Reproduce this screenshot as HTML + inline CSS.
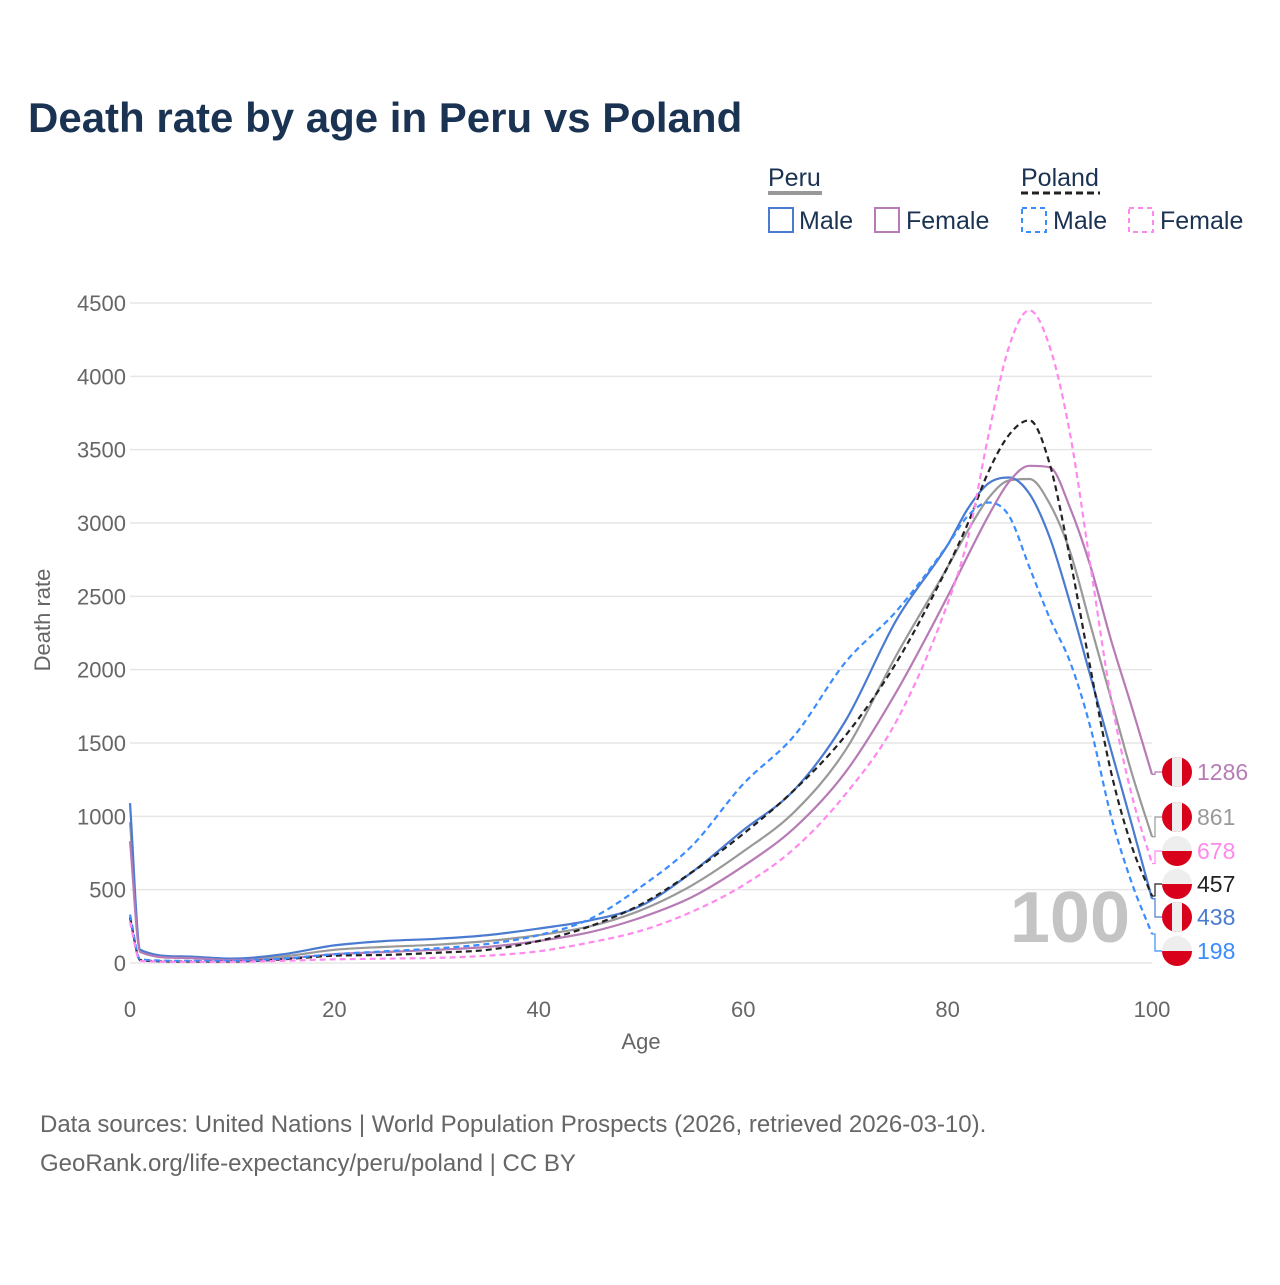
<!DOCTYPE html>
<html><head><meta charset="utf-8"><style>
body{margin:0;background:#fff;width:1280px;height:1280px;overflow:hidden;font-family:"Liberation Sans",sans-serif}
</style></head><body>
<svg width="1280" height="1280" xmlns="http://www.w3.org/2000/svg" font-family="Liberation Sans, sans-serif">
<text x="28" y="132" font-size="42" font-weight="bold" fill="#1b3352">Death rate by age in Peru vs Poland</text>
<g id="legend" font-size="25" fill="#1b3352">
<text x="768" y="186">Peru</text>
<line x1="768" y1="193" x2="822" y2="193" stroke="#999" stroke-width="4"/>
<text x="1021" y="186">Poland</text>
<line x1="1021" y1="193" x2="1100" y2="193" stroke="#222" stroke-width="3" stroke-dasharray="7,4"/>
<g><rect x="769" y="208" width="24" height="24" fill="none" stroke="#4a7bd0" stroke-width="2"/><text x="799" y="229">Male</text></g>
<g><rect x="875" y="208" width="24" height="24" fill="none" stroke="#b77bb5" stroke-width="2"/><text x="906" y="229">Female</text></g>
<g><rect x="1022" y="208" width="24" height="24" fill="none" stroke="#3a8cff" stroke-width="2" stroke-dasharray="5,4"/><text x="1053" y="229">Male</text></g>
<g><rect x="1129" y="208" width="24" height="24" fill="none" stroke="#ff88ee" stroke-width="2" stroke-dasharray="5,4"/><text x="1160" y="229">Female</text></g>
</g>
<g id="grid"></g>
<g id="axes" font-size="22" fill="#666"></g>
<text x="1130" y="942" font-size="72" font-weight="bold" fill="#c4c4c4" text-anchor="end">100</text>
<g id="lines"></g>
<g id="labels"></g>
<text x="641" y="1049" font-size="22" fill="#666" text-anchor="middle">Age</text>
<text transform="translate(50,620) rotate(-90)" font-size="22" fill="#666" text-anchor="middle">Death rate</text>
<text x="40" y="1132" font-size="24" fill="#666">Data sources: United Nations | World Population Prospects (2026, retrieved 2026-03-10).</text>
<text x="40" y="1171" font-size="24" fill="#666">GeoRank.org/life-expectancy/peru/poland | CC BY</text>
</svg>
<script>
const ages=[0,1,5,10,15,20,25,30,35,40,45,50,55,60,65,70,75,80,82,84,86,88,90,92,94,96,98,100];
const peruMale=[1090,90,45,30,60,120,150,165,190,235,290,390,620,905,1180,1650,2340,2850,3100,3270,3310,3200,2900,2450,1950,1450,950,438];
const polandMale=[330,25,15,15,30,60,80,100,130,190,300,520,800,1220,1550,2050,2400,2850,3050,3140,3050,2700,2350,2050,1600,1000,550,198];
const peruTotal=[960,80,40,25,45,90,110,125,150,190,250,360,530,760,1030,1450,2100,2700,2950,3170,3290,3300,3130,2800,2300,1800,1300,861];
const peruFemale=[830,75,35,20,30,60,75,90,110,150,210,310,450,660,920,1300,1850,2500,2780,3050,3280,3390,3380,3100,2700,2200,1750,1286];
const polandTotal=[310,20,10,10,25,50,55,70,90,150,250,400,620,880,1180,1550,2050,2700,3000,3350,3600,3700,3400,2750,2000,1300,800,457];
const polandFemale=[280,15,8,8,15,25,30,35,50,80,140,220,350,530,780,1150,1650,2450,2900,3600,4200,4450,4200,3600,2700,1800,1150,678];
const yTicks=[0,500,1000,1500,2000,2500,3000,3500,4000,4500];
const xTicks=[0,20,40,60,80,100];
const NS="http://www.w3.org/2000/svg";
const X=a=>130+a*10.22, Y=v=>963-v*660/4500;
const mk=(t,at,p)=>{const e=document.createElementNS(NS,t);for(const k in at)e.setAttribute(k,at[k]);p.appendChild(e);return e;};
const grid=document.getElementById('grid'),axes=document.getElementById('axes');
yTicks.forEach(v=>{
 const l=mk('line',{x1:130,x2:1152,y1:Y(v),y2:Y(v),stroke:'#e6e6e6','stroke-width':1.5},grid);
 
 
 const t=mk('text',{x:126,y:Y(v)+8,'text-anchor':'end'},axes);t.textContent=v;
 
 
});
xTicks.forEach(a=>{
 const t=mk('text',{x:X(a),y:1017,'text-anchor':'middle'},axes);t.textContent=a;
 
 
});
function path(vals){
 const xs=ages.map(X),ys=vals.map(Y),n=xs.length;
 const d=[],m=[];
 for(let i=0;i<n-1;i++)d.push((ys[i+1]-ys[i])/(xs[i+1]-xs[i]));
 m[0]=d[0];m[n-1]=d[n-2];
 for(let i=1;i<n-1;i++){m[i]=(d[i-1]*d[i]<=0)?0:(d[i-1]+d[i])/2;}
 for(let i=0;i<n-1;i++){
  if(d[i]===0){m[i]=0;m[i+1]=0;continue;}
  const a=m[i]/d[i],b=m[i+1]/d[i],s=a*a+b*b;
  if(s>9){const t=3/Math.sqrt(s);m[i]=t*a*d[i];m[i+1]=t*b*d[i];}
 }
 let p='M'+xs[0]+','+ys[0];
 for(let i=0;i<n-1;i++){
  const h=(xs[i+1]-xs[i])/3;
  p+=` C${xs[i]+h},${ys[i]+m[i]*h} ${xs[i+1]-h},${ys[i+1]-m[i+1]*h} ${xs[i+1]},${ys[i+1]}`;
 }
 return p;
}
const lines=document.getElementById('lines'),labels=document.getElementById('labels');
const series=[
 {v:peruTotal,c:'#999',dash:'',lab:817,flag:'pe',name:'peru-total'},
 {v:peruMale,c:'#4a7bd0',dash:'',lab:917,flag:'pe',name:'peru-male'},
 {v:peruFemale,c:'#b77bb5',dash:'',lab:772,flag:'pe',name:'peru-female'},
 {v:polandTotal,c:'#222',dash:'6,4',lab:884,flag:'pl',name:'poland-total'},
 {v:polandMale,c:'#3a8cff',dash:'6,4',lab:951,flag:'pl',name:'poland-male'},
 {v:polandFemale,c:'#ff88ee',dash:'6,4',lab:851,flag:'pl',name:'poland-female'}
];
series.forEach(s=>{
 const p=mk('path',{d:path(s.v),fill:'none',stroke:s.c,'stroke-width':2.2,'stroke-dasharray':s.dash},lines);
 
 
 const last=s.v[s.v.length-1],ey=Y(last);
 const c=mk('path',{d:`M${X(100)},${ey} L${X(100)+3},${ey} L${X(100)+3},${s.lab} L1162,${s.lab}`,fill:'none',stroke:s.c,'stroke-width':1.2},labels);
 
 
 const g=mk('g',{},labels);
 
 
 const id='cl'+s.name;
 const cp=mk('clipPath',{id:id},g);mk('circle',{cx:1177,cy:s.lab,r:15},cp);
 const gg=mk('g',{'clip-path':`url(#${id})`},g);
 if(s.flag==='pe'){mk('rect',{x:1162,y:s.lab-15,width:30,height:30,fill:'#d9001b'},gg);mk('rect',{x:1172,y:s.lab-15,width:10,height:30,fill:'#eee'},gg);}
 else{mk('rect',{x:1162,y:s.lab-15,width:30,height:15,fill:'#eee'},gg);mk('rect',{x:1162,y:s.lab,width:30,height:15,fill:'#d9001b'},gg);}
 const t=mk('text',{x:1197,y:s.lab+8,'font-size':23,fill:s.c},labels);t.textContent=last;
 
 
});
</script>
</body></html>
